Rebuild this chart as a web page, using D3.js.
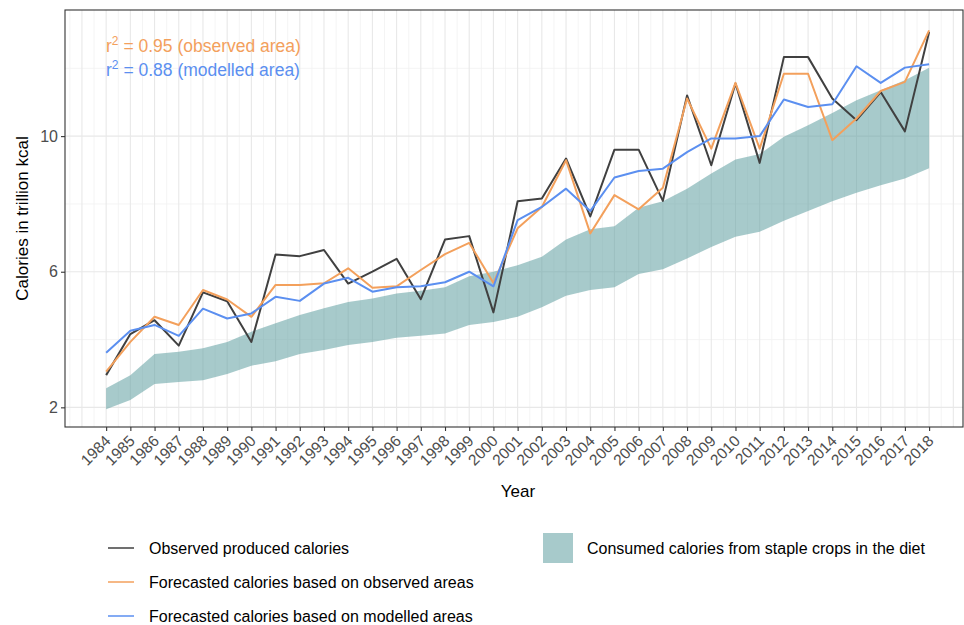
<!DOCTYPE html>
<html>
<head>
<meta charset="utf-8">
<title></title>
<style>
body { margin: 0; background: #fff; }
text { font-family: "Liberation Sans", Arial, sans-serif; }
.grid-major { stroke: #e8e8e8; stroke-width: 1.1px; }
.grid-minor { stroke: #f1f1f1; stroke-width: 0.8px; }
.line { fill: none; stroke-width: 2px; stroke-linejoin: round; }
</style>
</head>
<body>
<script src="https://cdn.jsdelivr.net/npm/d3@7"></script>
<script>

// data (trillion kcal)
var years = d3.range(1984, 2019);
var observed = [2.95, 4.16, 4.57, 3.82, 5.39, 5.13, 3.93, 6.51, 6.46, 6.64,
  5.65, 6.00, 6.38, 5.19, 6.95, 7.05, 4.80, 8.08, 8.16, 9.34,
  7.63, 9.60, 9.60, 8.09, 11.20, 9.14, 11.55, 9.21, 12.33, 12.33,
  11.11, 10.47, 11.30, 10.14, 13.07];
var forecastObserved = [3.05, 3.93, 4.67, 4.43, 5.46, 5.18, 4.67, 5.61, 5.61, 5.66,
  6.10, 5.53, 5.57, 6.05, 6.52, 6.85, 5.67, 7.28, 7.91, 9.29,
  7.13, 8.26, 7.84, 8.48, 11.11, 9.63, 11.57, 9.63, 11.84, 11.84,
  9.88, 10.52, 11.33, 11.60, 13.12];
var forecastModelled = [3.61, 4.26, 4.43, 4.11, 4.91, 4.62, 4.77, 5.26, 5.14, 5.65,
  5.82, 5.41, 5.54, 5.57, 5.69, 6.00, 5.57, 7.52, 7.91, 8.45,
  7.79, 8.78, 8.97, 9.04, 9.53, 9.93, 9.93, 10.00, 11.08, 10.86,
  10.94, 12.06, 11.57, 12.02, 12.12];
var consumedLow = [1.94, 2.22, 2.69, 2.75, 2.80, 2.98, 3.23, 3.36, 3.57, 3.69,
  3.84, 3.93, 4.05, 4.11, 4.18, 4.43, 4.52, 4.67, 4.95, 5.29,
  5.46, 5.54, 5.93, 6.07, 6.39, 6.73, 7.03, 7.18, 7.50, 7.79,
  8.08, 8.33, 8.55, 8.75, 9.05];
var consumedHigh = [2.56, 2.95, 3.57, 3.64, 3.74, 3.93, 4.23, 4.48, 4.72, 4.92,
  5.11, 5.21, 5.36, 5.44, 5.54, 5.87, 6.00, 6.19, 6.44, 6.95,
  7.25, 7.34, 7.89, 8.08, 8.45, 8.90, 9.31, 9.47, 9.98, 10.32,
  10.68, 11.06, 11.35, 11.65, 12.02];
var yMajor = [2, 6, 10];
var yMinor = [4, 8, 12];

var width = 964, height = 625;
var pLeft = 65, pRight = 963, pTop = 10, pBottom = 427;

var svg = d3.select("body").append("svg")
    .attr("width", width)
    .attr("height", height);

var x = d3.scaleLinear().domain([1982.3, 2019.4]).range([pLeft, pRight]);
var y = d3.scaleLinear().domain([1.42, 13.72]).range([pBottom, pTop]);

// grid
var grid = svg.append("g");
grid.selectAll(".vmin").data(d3.range(1982.5, 2019.5, 1)).enter().append("line")
    .attr("class", "grid-minor")
    .attr("x1", function(d) { return x(d); }).attr("x2", function(d) { return x(d); })
    .attr("y1", pTop).attr("y2", pBottom);
grid.selectAll(".hmin").data(yMinor).enter().append("line")
    .attr("class", "grid-minor")
    .attr("x1", pLeft).attr("x2", pRight)
    .attr("y1", function(d) { return y(d); }).attr("y2", function(d) { return y(d); });
grid.selectAll(".vmaj").data(d3.range(1983, 2020)).enter().append("line")
    .attr("class", "grid-major")
    .attr("x1", function(d) { return x(d); }).attr("x2", function(d) { return x(d); })
    .attr("y1", pTop).attr("y2", pBottom);
grid.selectAll(".hmaj").data(yMajor).enter().append("line")
    .attr("class", "grid-major")
    .attr("x1", pLeft).attr("x2", pRight)
    .attr("y1", function(d) { return y(d); }).attr("y2", function(d) { return y(d); });

// ribbon
var band = years.map(function(yr, i) { return {year: yr, lo: consumedLow[i], hi: consumedHigh[i]}; });
svg.append("path")
    .datum(band)
    .attr("fill", "#5f9ea0")
    .attr("fill-opacity", 0.55)
    .attr("d", d3.area()
        .x(function(d) { return x(d.year); })
        .y0(function(d) { return y(d.lo); })
        .y1(function(d) { return y(d.hi); }));

// lines
var series = [
  {values: observed, color: "#404040"},
  {values: forecastObserved, color: "#f3a05c"},
  {values: forecastModelled, color: "#5b8ff0"}
];
var line = d3.line()
    .x(function(d, i) { return x(years[i]); })
    .y(function(d) { return y(d); });
svg.selectAll(".line").data(series).enter().append("path")
    .attr("class", "line")
    .attr("stroke", function(d) { return d.color; })
    .attr("d", function(d) { return line(d.values); });

// panel border
svg.append("rect")
    .attr("x", pLeft).attr("y", pTop)
    .attr("width", pRight - pLeft).attr("height", pBottom - pTop)
    .attr("fill", "none").attr("stroke", "#333").attr("stroke-width", 1.1);

// axes
var xAxis = svg.append("g")
    .attr("transform", "translate(0," + pBottom + ")")
    .call(d3.axisBottom(x).tickValues(years).tickFormat(d3.format("d")).tickSize(4).tickSizeOuter(0));
xAxis.select(".domain").remove();
xAxis.selectAll(".tick line").attr("stroke", "#333").attr("stroke-width", 1.1);
xAxis.selectAll(".tick text")
    .attr("fill", "#4d4d4d")
    .style("font-size", "15.5px")
    .attr("text-anchor", "end")
    .attr("dy", null)
    .attr("transform", "translate(5,15) rotate(-45)")
    .attr("y", 0).attr("x", 0);

var yAxis = svg.append("g")
    .attr("transform", "translate(" + pLeft + ",0)")
    .call(d3.axisLeft(y).tickValues(yMajor).tickSize(4).tickSizeOuter(0));
yAxis.select(".domain").remove();
yAxis.selectAll(".tick line").attr("stroke", "#333").attr("stroke-width", 1.1);
yAxis.selectAll(".tick text")
    .attr("fill", "#4d4d4d")
    .style("font-size", "16px")
    .attr("x", -7);

svg.append("text")
    .attr("transform", "translate(28," + ((pTop + pBottom) / 2) + ") rotate(-90)")
    .attr("text-anchor", "middle")
    .style("font-size", "17px")
    .text("Calories in trillion kcal");

svg.append("text")
    .attr("x", 518).attr("y", 497)
    .attr("text-anchor", "middle")
    .style("font-size", "17px")
    .text("Year");

// r2 annotations
var notes = [
  {val: "0.95", label: "(observed area)", color: "#f3a05c", y: 52},
  {val: "0.88", label: "(modelled area)", color: "#5b8ff0", y: 76}
];
notes.forEach(function(n) {
  var t = svg.append("text")
      .attr("x", 106).attr("y", n.y)
      .attr("fill", n.color)
      .style("font-size", "17.5px");
  t.append("tspan").text("r");
  t.append("tspan").attr("dy", -7).style("font-size", "12px").text("2");
  t.append("tspan").attr("dy", 7).text(" = " + n.val + " " + n.label);
});

// legend
var legendItems = [
  {label: "Observed produced calories", color: "#404040"},
  {label: "Forecasted calories based on observed areas", color: "#f3a05c"},
  {label: "Forecasted calories based on modelled areas", color: "#5b8ff0"}
];
var lg = svg.selectAll(".lg").data(legendItems).enter().append("g")
    .attr("transform", function(d, i) { return "translate(0," + (548 + i * 34) + ")"; });
lg.append("line")
    .attr("x1", 108).attr("x2", 134)
    .attr("stroke", function(d) { return d.color; })
    .attr("stroke-width", 1.5);
lg.append("text")
    .attr("x", 149).attr("y", 6)
    .style("font-size", "16px")
    .text(function(d) { return d.label; });

svg.append("rect")
    .attr("x", 543).attr("y", 533).attr("width", 30).attr("height", 30)
    .attr("fill", "#5f9ea0").attr("fill-opacity", 0.55);
svg.append("text")
    .attr("x", 587).attr("y", 554)
    .style("font-size", "16px")
    .text("Consumed calories from staple crops in the diet");

</script>
</body>
</html>
